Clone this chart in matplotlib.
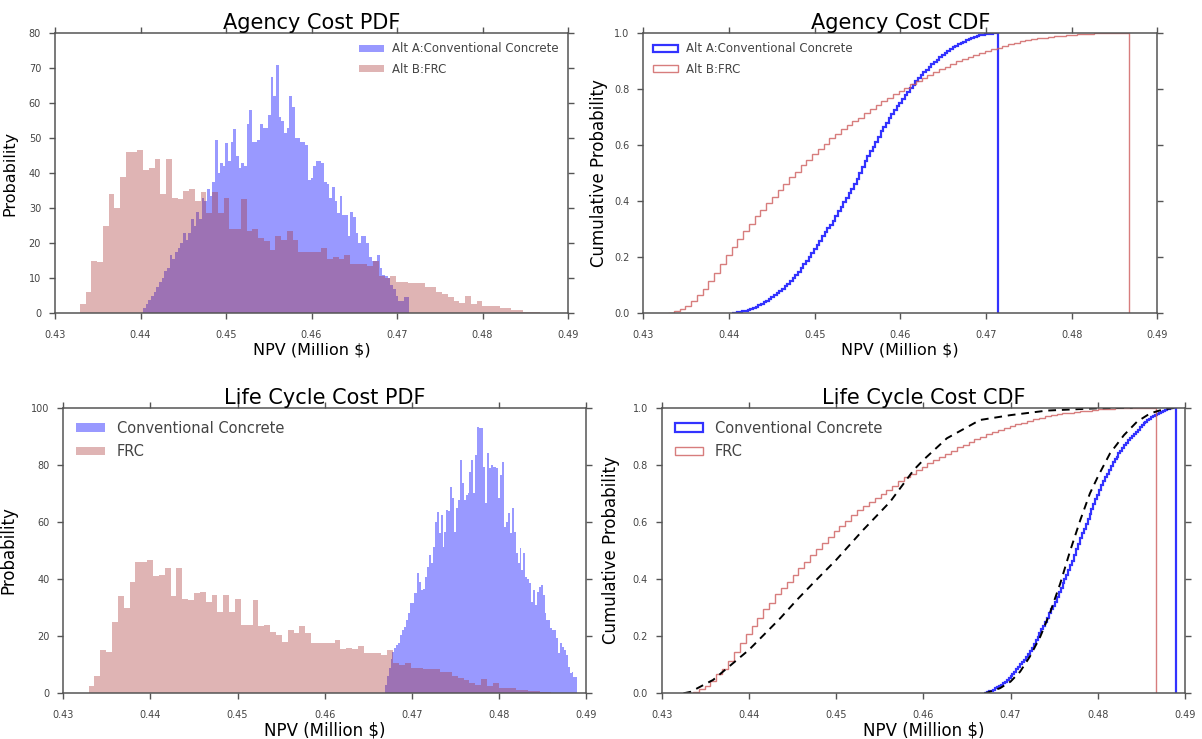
import numpy as np
import matplotlib
matplotlib.use('Agg')
import matplotlib.pyplot as plt

# ---- data (density histograms) ----
# Alt B / FRC: 80 bins between these limits (same sample in both rows)
frc_lo, frc_hi = 0.4329, 0.4867
frc_pdf = [2.5, 6, 15, 14.5, 25, 34, 30, 39, 46, 46,
           46.5, 41, 41.5, 44, 34, 44, 33, 32.5, 35, 35.5,
           32, 34.5, 28.5, 34.5, 28.5, 33, 24, 24, 32.5, 23.5,
           24, 21.5, 20.5, 18, 22, 21, 23.5, 21, 17.5, 17.5,
           17.5, 17.5, 18.5, 15.5, 16, 15.5, 16.5, 14, 14, 14,
           13.5, 15, 10.5, 10, 10.5, 9, 9, 8.5, 8.5, 8.5,
           7.5, 7.5, 6, 5.5, 4.5, 3.5, 3, 5, 2.5, 3.5,
           2, 2, 2, 1.3, 1.3, 0.8, 0.8, 0.3, 0.3, 0.2]

# Alt A / conventional concrete, agency cost: 100 bins
alta_lo, alta_hi = 0.4403, 0.4714
alta_pdf = [1.5, 2.5, 3.7, 5, 6, 7.5, 9, 10, 12, 13,
            16.5, 15.5, 17.5, 18.5, 20, 23, 21, 23, 27, 25,
            29, 27, 33, 32, 35.5, 33.5, 37.5, 49.5, 40, 43,
            42, 48.5, 43.5, 49, 52.5, 45, 41.5, 43, 42, 54,
            58, 49, 49, 49.5, 54, 53, 53, 56.5, 67.5, 62,
            71, 56, 55, 51.5, 53, 62, 59, 50, 50, 49,
            49, 48, 38, 38.5, 42, 43.5, 43.5, 43, 37.5, 37,
            33, 36, 32, 28.5, 33.5, 28, 28, 22, 29, 27.5,
            23, 20, 22, 22, 20, 16, 15, 15, 16.5, 13,
            11, 10.5, 10, 8, 7, 5, 3.5, 3.3, 4.5, 4.5]

# conventional concrete, life cycle cost: 100 bins
conv_lo, conv_hi = 0.4669, 0.4890
conv_pdf = [3, 6, 9, 12, 14.6, 15.7, 17, 17.5, 20.4, 22,
            23.3, 25.7, 28, 31.5, 31.5, 35, 35, 42, 39, 36,
            36.5, 40.8, 44.3, 48.4, 45.5, 51.3, 60, 63.6, 56, 62.4,
            51.3, 56.6, 64.2, 64, 72.3, 68.3, 56.6, 64.8, 67.7, 81.7,
            73.5, 67.7, 69.4, 70, 77.6, 81.7, 70, 83.4, 93.3, 92.8,
            92.8, 79.3, 66.5, 84, 78.8, 80, 79.3, 79.3, 78.8, 68.3,
            76.4, 81.1, 58.3, 60, 63, 56, 64.8, 56.6, 49, 45.5,
            50.8, 43.2, 49, 40.8, 40, 38.5, 32, 36.2, 31, 35.6,
            37.3, 38, 34.4, 28, 25.7, 25.7, 23, 22, 22, 19.3,
            14, 17.5, 16.3, 15, 13.4, 9.3, 7, 7.6, 5.8, 5.8]

# fitted CDFs (dashed)
frc_fit_x = [0.4325, 0.4333, 0.4359, 0.4400, 0.4436, 0.4455, 0.4475, 0.4500,
             0.4531, 0.4562, 0.4589, 0.4600, 0.4627, 0.4665, 0.4700, 0.4742,
             0.4800, 0.4840]
frc_fit_y = [0.0, 0.005, 0.047, 0.152, 0.263, 0.327, 0.39, 0.467,
             0.572, 0.671, 0.782, 0.817, 0.893, 0.957, 0.974, 0.99,
             0.998, 1.0]
conv_fit_x = [0.4670, 0.4673, 0.4688, 0.4700, 0.4711, 0.4722, 0.4734, 0.4745,
              0.4757, 0.4768, 0.4780, 0.4791, 0.4800, 0.4814, 0.4830, 0.4845,
              0.4860, 0.4875, 0.4887]
conv_fit_y = [0.0, 0.002, 0.018, 0.041, 0.076, 0.128, 0.198, 0.28,
              0.385, 0.496, 0.607, 0.70, 0.758, 0.84, 0.904, 0.951,
              0.98, 0.994, 0.999]

xticks = [0.43, 0.44, 0.45, 0.46, 0.47, 0.48, 0.49]

blue = 'b'
pink = 'brown'
grey = '#555555'


def edges(lo, hi, vals):
    return np.linspace(lo, hi, len(vals) + 1)


def style(ax, ylim, yticks, yfmt, tsize=7):
    ax.set_xlim(0.43, 0.49)
    ax.set_ylim(*ylim)
    ax.set_xticks(xticks)
    ax.set_xticklabels(['%.2f' % t for t in xticks])
    ax.set_yticks(yticks)
    ax.set_yticklabels([yfmt % t for t in yticks])
    ax.tick_params(direction='out', length=4, width=1, color=grey,
                   labelcolor='#444444', labelsize=tsize, top=True, right=True)
    ax.tick_params(axis='x', pad=8)
    ax.tick_params(axis='y', pad=6)
    for s in ax.spines.values():
        s.set_color(grey)
        s.set_linewidth(1.1)


def pdf(ax, lo, hi, vals, color, alpha, label):
    e = edges(lo, hi, vals)
    ax.hist(e[:-1], bins=e, weights=vals, color=color, alpha=alpha,
            edgecolor='none', label=label)


def cdf(ax, lo, hi, vals, color, alpha, lw, label):
    e = edges(lo, hi, vals)
    ax.hist(e[:-1], bins=e, weights=vals, cumulative=True, density=True,
            histtype='step', color=color, alpha=alpha, lw=lw, label=label)


fig = plt.figure(figsize=(12.02, 7.39), dpi=100)

# ---- Agency cost PDF ----
ax1 = fig.add_axes([0.04576, 0.57645, 0.42679, 0.37889])
pdf(ax1, alta_lo, alta_hi, alta_pdf, blue, 0.4, 'Alt A:Conventional Concrete')
pdf(ax1, frc_lo, frc_hi, frc_pdf, pink, 0.35, 'Alt B:FRC')
style(ax1, (0, 80), range(0, 81, 10), '%d')
ax1.set_title('Agency Cost PDF', fontsize=15, pad=3)
ax1.set_xlabel('NPV (Million $)', fontsize=11.5)
ax1.set_ylabel('Probability', fontsize=11.5)
ax1.xaxis.set_label_coords(0.5, -0.104)
ax1.yaxis.set_label_coords(-0.074, 0.5)
ax1.legend(loc='upper right', frameon=False, fontsize=8.5, handlelength=2.1,
           handleheight=0.6, handletextpad=0.7, labelspacing=0.6,
           borderaxespad=0.4, labelcolor='#444444')

# ---- Agency cost CDF ----
ax2 = fig.add_axes([0.53519, 0.57645, 0.42762, 0.37889])
cdf(ax2, alta_lo, alta_hi, alta_pdf, blue, 0.8, 1.6, 'Alt A:Conventional Concrete')
cdf(ax2, frc_lo, frc_hi, frc_pdf, 'indianred', 0.8, 1.0, 'Alt B:FRC')
style(ax2, (0, 1.0), np.arange(0, 1.01, 0.2), '%.1f')
ax2.set_title('Agency Cost CDF', fontsize=15, pad=3)
ax2.set_xlabel('NPV (Million $)', fontsize=11.5)
ax2.set_ylabel('Cumulative Probability', fontsize=12)
ax2.xaxis.set_label_coords(0.5, -0.104)
ax2.yaxis.set_label_coords(-0.069, 0.5)
ax2.legend(loc='upper left', frameon=False, fontsize=8.5, handlelength=2.1,
           handleheight=0.6, handletextpad=0.7, labelspacing=0.6,
           borderaxespad=0.4, labelcolor='#444444')

# ---- Life cycle cost PDF ----
ax3 = fig.add_axes([0.05266, 0.06184, 0.43486, 0.38647])
pdf(ax3, conv_lo, conv_hi, conv_pdf, blue, 0.4, 'Conventional Concrete')
pdf(ax3, frc_lo, frc_hi, frc_pdf, pink, 0.35, 'FRC')
style(ax3, (0, 100), range(0, 101, 20), '%d')
ax3.set_title('Life Cycle Cost PDF', fontsize=15, pad=3)
ax3.set_xlabel('NPV (Million $)', fontsize=12)
ax3.set_ylabel('Probability', fontsize=12)
ax3.xaxis.set_label_coords(0.5, -0.1)
ax3.yaxis.set_label_coords(-0.087, 0.5)
ax3.legend(loc='upper left', frameon=False, fontsize=10.5, handlelength=1.95,
           handleheight=0.5, handletextpad=0.8, labelspacing=0.55,
           borderaxespad=0.5, labelcolor='#444444')

# ---- Life cycle cost CDF ----
ax4 = fig.add_axes([0.5505, 0.06184, 0.43536, 0.38647])
cdf(ax4, conv_lo, conv_hi, conv_pdf, blue, 0.8, 1.6, 'Conventional Concrete')
cdf(ax4, frc_lo, frc_hi, frc_pdf, 'indianred', 0.8, 1.0, 'FRC')
ax4.plot(frc_fit_x, frc_fit_y, color='k', ls='--', dashes=(4, 3), lw=1.4)
ax4.plot(conv_fit_x, conv_fit_y, color='k', ls='--', dashes=(4, 3), lw=1.4)
style(ax4, (0, 1.0), np.arange(0, 1.01, 0.2), '%.1f')
ax4.set_title('Life Cycle Cost CDF', fontsize=15, pad=3)
ax4.set_xlabel('NPV (Million $)', fontsize=12)
ax4.set_ylabel('Cumulative Probability', fontsize=12)
ax4.xaxis.set_label_coords(0.5, -0.1)
ax4.yaxis.set_label_coords(-0.08, 0.5)
ax4.legend(loc='upper left', frameon=False, fontsize=10.5, handlelength=1.95,
           handleheight=0.5, handletextpad=0.8, labelspacing=0.55,
           borderaxespad=0.5, labelcolor='#444444')

fig.savefig('out.png', dpi=100)
